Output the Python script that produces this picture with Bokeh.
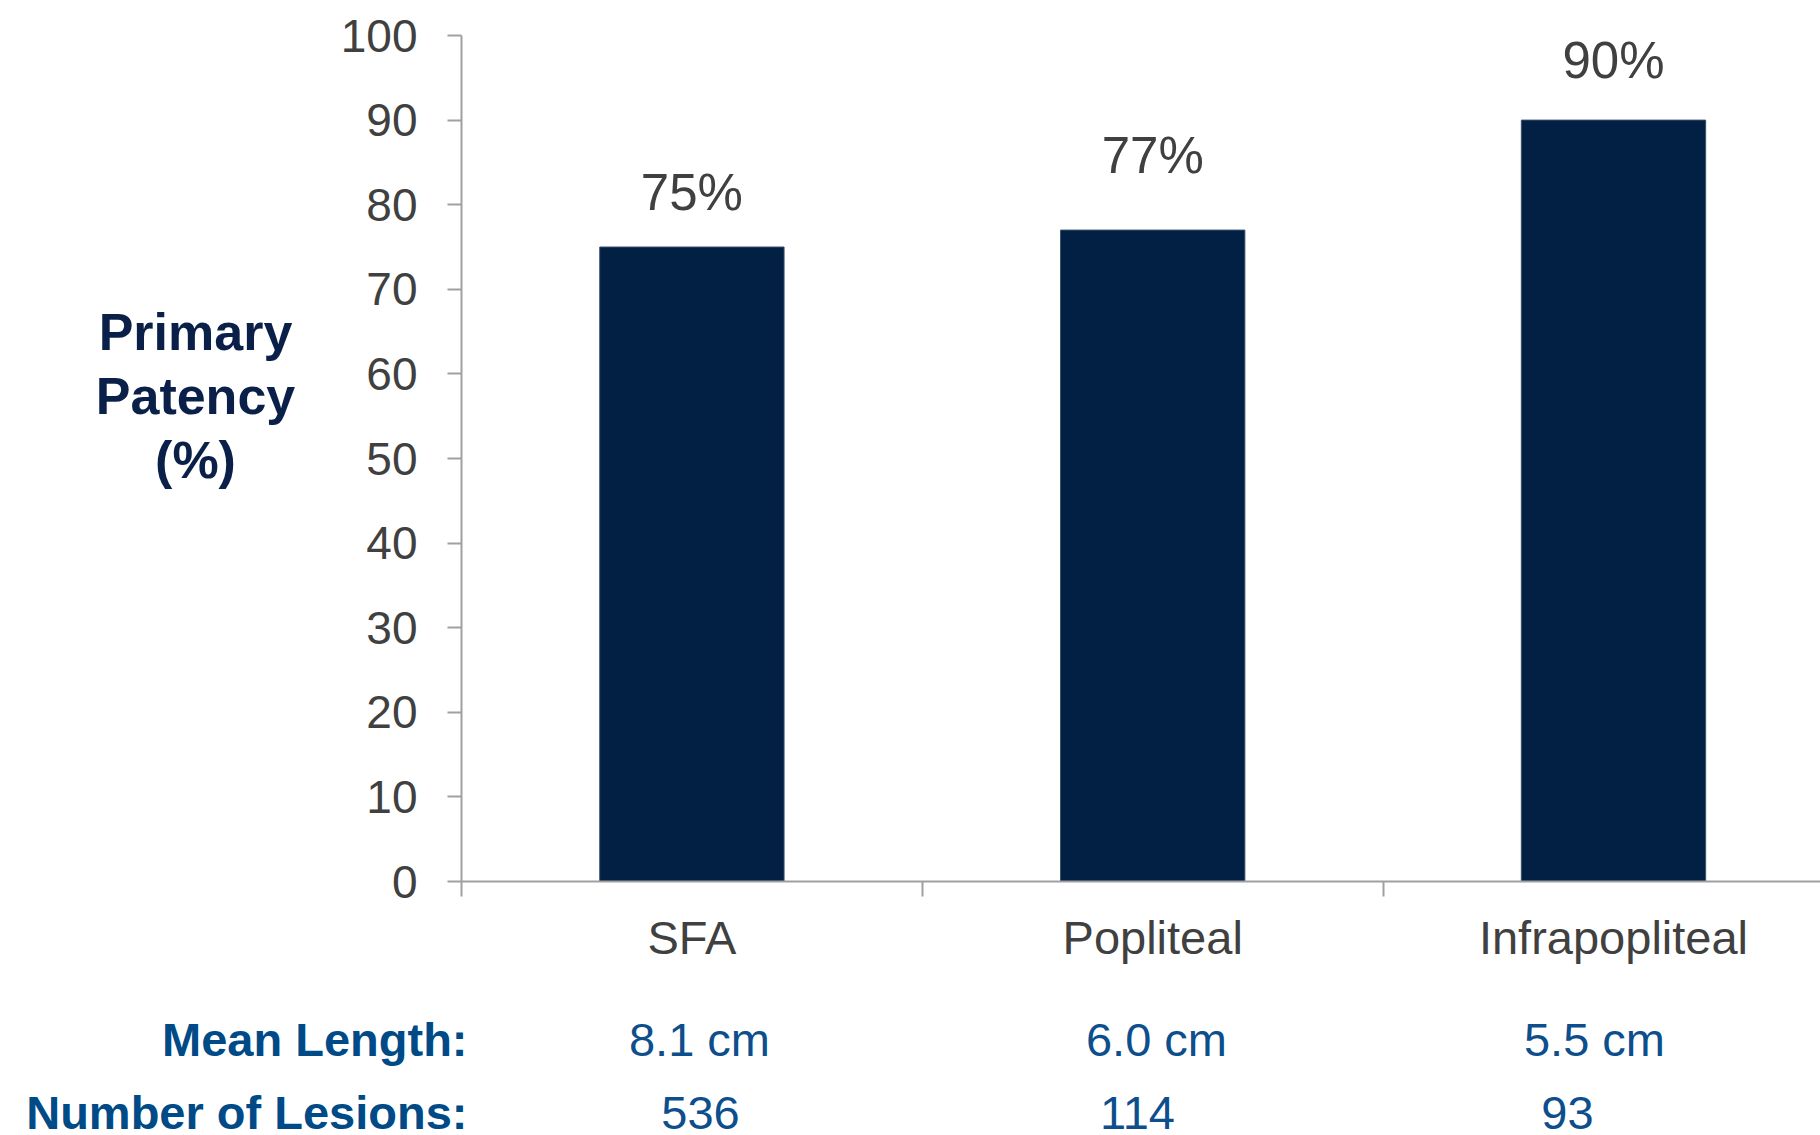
from bokeh.plotting import figure
from bokeh.models import FixedTicker, ColumnDataSource, Range1d
from bokeh.layouts import column, row
from bokeh.core.properties import value
from bokeh.embed import file_html
from bokeh.resources import INLINE

categories = ["SFA", "Popliteal", "Infrapopliteal"]
patency = [75, 77, 90]
patency_labels = ["75%", "77%", "90%"]
mean_length = ["8.1 cm", "6.0 cm", "5.5 cm"]
num_lesions = ["536", "114", "93"]
y_ticks = [0, 10, 20, 30, 40, 50, 60, 70, 80, 90, 100]
ylabel_lines = ["Primary", "Patency", "(%)"]
row_titles = ["Mean Length:", "Number of Lesions:"]

FONT = "Liberation Sans"
GRAY_TXT = "#404040"
AXIS_GRAY = "#a0a0a0"
NAVY = "#021F44"
LABEL_NAVY = "#0B2049"
BLUE = "#0D4E8C"
BLUE_BOLD = "#004B87"

W, H = 1820, 1135
LABEL_W = 300          # width of the y-label panel
PLOT_LEFT = 461        # page x of the y axis
TOP_H = 990            # height of the chart row
CAT_W = 460.8          # px per category
FRAME_TOP, FRAME_BOTTOM = 35, 881
label_offsets = [-55, -75, -60]   # vertical placement of value labels (px)

def base_fig(**kw):
    f = figure(output_backend="svg", toolbar_location=None, **kw)
    f.outline_line_color = None
    f.background_fill_color = "white"
    f.border_fill_color = "white"
    return f

# ---------------- main chart ----------------
x_end = (W - PLOT_LEFT) / CAT_W
p = base_fig(width=W - LABEL_W, height=TOP_H,
             x_range=Range1d(0, x_end), y_range=Range1d(0, 100),
             min_border_left=PLOT_LEFT - LABEL_W, min_border_right=0,
             min_border_top=FRAME_TOP, min_border_bottom=TOP_H - FRAME_BOTTOM)
p.xgrid.visible = False
p.ygrid.visible = False

centers = [i + 0.5 for i in range(len(categories))]
src = ColumnDataSource(dict(x=centers, top=patency, lab=patency_labels,
                            off=label_offsets))
p.vbar(x="x", top="top", width=0.4, bottom=0, source=src,
       fill_color=NAVY, line_color="#3a4f6e", line_width=1)
p.text(x="x", y="top", text="lab", source=src, y_offset="off",
       text_align="center", text_baseline="alphabetic",
       text_font=value(FONT), text_font_size="51px", text_color=GRAY_TXT)

ya = p.yaxis[0]
ya.ticker = FixedTicker(ticks=y_ticks)
ya.major_tick_out = 14
ya.major_tick_in = 0
ya.minor_tick_out = 0
ya.minor_tick_in = 0
ya.major_label_standoff = 30
ya.major_label_text_font = FONT
ya.major_label_text_font_size = "46px"
ya.major_label_text_color = GRAY_TXT
ya.axis_line_color = AXIS_GRAY
ya.axis_line_width = 2
ya.major_tick_line_color = AXIS_GRAY
ya.major_tick_line_width = 2

xa = p.xaxis[0]
xa.ticker = FixedTicker(ticks=centers, minor_ticks=[0, 1, 2, 3])
xa.major_label_overrides = {c: n for c, n in zip(centers, categories)}
xa.major_tick_out = 0
xa.major_tick_in = 0
xa.minor_tick_out = 15
xa.minor_tick_in = 0
xa.minor_tick_line_color = AXIS_GRAY
xa.minor_tick_line_width = 2
xa.major_label_standoff = 14
xa.major_label_text_font = FONT
xa.major_label_text_font_size = "47px"
xa.major_label_text_color = GRAY_TXT
xa.axis_line_color = AXIS_GRAY
xa.axis_line_width = 2

# ---------------- y label panel (frame aligned with the chart frame) ----------------
pl = base_fig(width=LABEL_W, height=TOP_H, x_axis_type=None, y_axis_type=None,
              x_range=Range1d(0, LABEL_W), y_range=Range1d(FRAME_BOTTOM, FRAME_TOP),
              min_border_left=0, min_border_right=0,
              min_border_top=FRAME_TOP, min_border_bottom=TOP_H - FRAME_BOTTOM)
pl.xgrid.visible = False
pl.ygrid.visible = False
pl.text(x=[195] * 3, y=[331, 395, 459], text=ylabel_lines,
        text_align="center", text_baseline="middle",
        text_font=value(FONT), text_font_style="bold",
        text_font_size="52px", text_color=LABEL_NAVY)

# ---------------- bottom rows ----------------
BOT_H = H - TOP_H
pb = base_fig(width=W, height=BOT_H, x_axis_type=None, y_axis_type=None,
              x_range=Range1d(-PLOT_LEFT / CAT_W, x_end), y_range=Range1d(BOT_H, 0),
              min_border=0)
pb.xgrid.visible = False
pb.ygrid.visible = False
row_y = [1039 - TOP_H, 1112 - TOP_H]
title_x = (467 - PLOT_LEFT) / CAT_W
pb.text(x=[title_x] * 2, y=row_y, text=row_titles,
        text_align="right", text_baseline="middle",
        text_font=value(FONT), text_font_style="bold",
        text_font_size="47px", text_color=BLUE_BOLD)
ml_x = [(px - PLOT_LEFT) / CAT_W for px in [699, 1156, 1594]]
nl_x = [(px - PLOT_LEFT) / CAT_W for px in [700, 1137, 1567]]
pb.text(x=ml_x, y=[row_y[0]] * 3, text=mean_length,
        text_align="center", text_baseline="middle",
        text_font=value(FONT), text_font_size="47px", text_color=BLUE)
pb.text(x=nl_x, y=[row_y[1]] * 3, text=num_lesions,
        text_align="center", text_baseline="middle",
        text_font=value(FONT), text_font_size="47px", text_color=BLUE)

layout = column(row(pl, p, spacing=0), pb, spacing=0)
open("out.html", "w").write(file_html(layout, INLINE))
